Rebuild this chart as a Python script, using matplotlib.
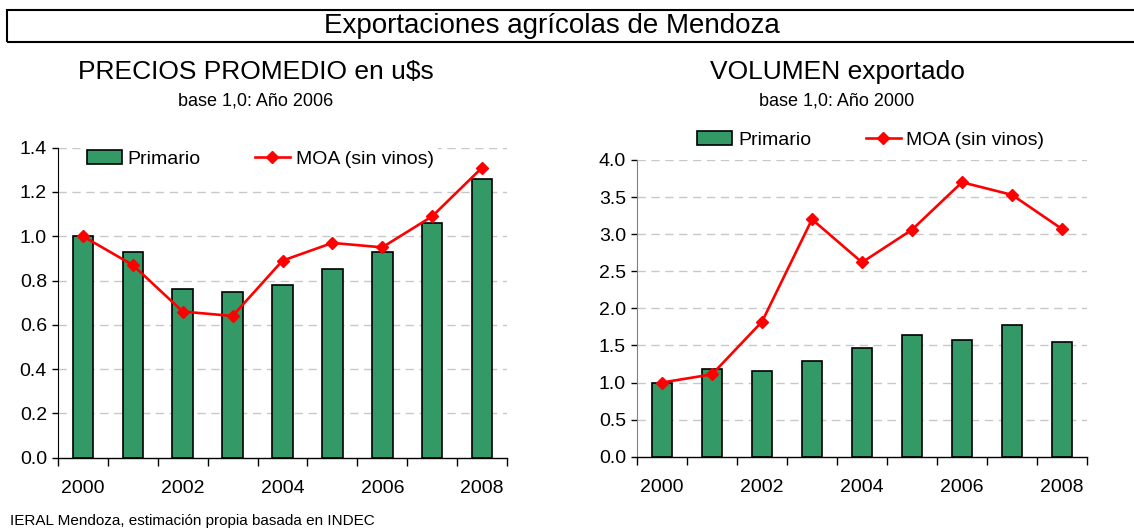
import matplotlib
matplotlib.use('Agg')
import matplotlib.pyplot as plt
import numpy as np
from matplotlib.patches import Rectangle

plt.rcParams['font.family'] = ['Liberation Sans', 'DejaVu Sans']

years = ['2000', '2001', '2002', '2003', '2004', '2005', '2006', '2007', '2008']

# precios promedio, base 2006
precio_primario = [1.00, 0.93, 0.76, 0.75, 0.78, 0.85, 0.93, 1.06, 1.26]
precio_moa = [1.00, 0.87, 0.66, 0.64, 0.89, 0.97, 0.95, 1.09, 1.31]

# volumen exportado, base 2000
vol_primario = [1.00, 1.18, 1.16, 1.29, 1.46, 1.64, 1.58, 1.78, 1.55]
vol_moa = [1.00, 1.11, 1.82, 3.20, 2.62, 3.06, 3.70, 3.53, 3.07]

GREEN = '#339966'
RED = '#ff0000'

fig = plt.figure(figsize=(11.34, 5.29), dpi=100)

# header box
fig.patches.append(Rectangle((7 / 1134, 1 - 42 / 529), 1.2, 32 / 529, transform=fig.transFigure,
                             fill=False, edgecolor='black', linewidth=1.5))
fig.text(552 / 1134, 1 - 26 / 529, 'Exportaciones agrícolas de Mendoza', ha='center', va='center', fontsize=20)


def draw_panel(rect, bars, line, ymax, ystep, title, subtitle, cx, leg_anchor, spine_col):
    ax = fig.add_axes(rect)
    x = np.arange(len(years))
    b = ax.bar(x, bars, width=0.41, color=GREEN, edgecolor='black', linewidth=1.2,
               label='Primario', zorder=2)
    l, = ax.plot(x, line, color=RED, linewidth=1.9, marker='D', markersize=6.5,
                 label='MOA (sin vinos)', zorder=3)
    ax.set_xlim(-0.5, len(years) - 0.5)
    ax.set_ylim(0, ymax)
    yt = np.arange(0, ymax + ystep / 2, ystep)
    ax.set_yticks(yt)
    ax.set_yticklabels(['%.1f' % v for v in yt], fontsize=14)
    for v in yt[1:]:
        ax.axhline(v, color='#c8c8c8', linewidth=1.0, linestyle=(0, (6, 4)), zorder=0)
    # category ticks at boundaries, labels every other year
    ax.set_xticks(np.arange(-0.5, len(years)), minor=False)
    ax.set_xticklabels([])
    ax.set_xticks(x[::2], minor=True)
    ax.set_xticklabels(years[::2], minor=True, fontsize=14)
    ax.tick_params(axis='x', which='major', direction='out', length=6, width=1)
    ax.tick_params(axis='x', which='minor', length=0, pad=16)
    ax.tick_params(axis='y', direction='out', length=4, width=1, pad=4)
    for s in ['top', 'right']:
        ax.spines[s].set_visible(False)
    ax.spines['left'].set_color(spine_col)
    ax.spines['bottom'].set_linewidth(1.0)
    leg = ax.legend([b, l], ['Primario', 'MOA (sin vinos)'], loc='center left',
                    bbox_to_anchor=leg_anchor, ncol=2, frameon=True,
                    fontsize=14, handlelength=1.8, handletextpad=0.3, columnspacing=2.8,
                    borderpad=0.2, borderaxespad=0)
    leg.get_frame().set_edgecolor('none')
    leg.get_frame().set_facecolor('white')
    leg.get_frame().set_alpha(1)
    leg.set_zorder(5)
    fig.text(cx, 1 - 72 / 529, title, ha='center', va='center', fontsize=19)
    fig.text(cx, 1 - 101 / 529, subtitle, ha='center', va='center', fontsize=13)
    return ax


ax1 = draw_panel([58 / 1134, 1 - 457.7 / 529, 449 / 1134, 310 / 529], precio_primario, precio_moa,
                 1.4, 0.2, 'PRECIOS PROMEDIO en u$s', 'base 1,0: Año 2006', 256 / 1134,
                 (0.055, 0.963), 'black')
ax2 = draw_panel([637 / 1134, 1 - 456.7 / 529, 450 / 1134, 296.7 / 529], vol_primario, vol_moa,
                 4.0, 0.5, 'VOLUMEN exportado', 'base 1,0: Año 2000', 837 / 1134,
                 (0.125, 1.068), '#808080')

fig.text(10 / 1134, 1 - 521 / 529, 'IERAL Mendoza, estimación propia basada en INDEC',
         ha='left', va='center', fontsize=11)

fig.savefig('out.png', dpi=100)
